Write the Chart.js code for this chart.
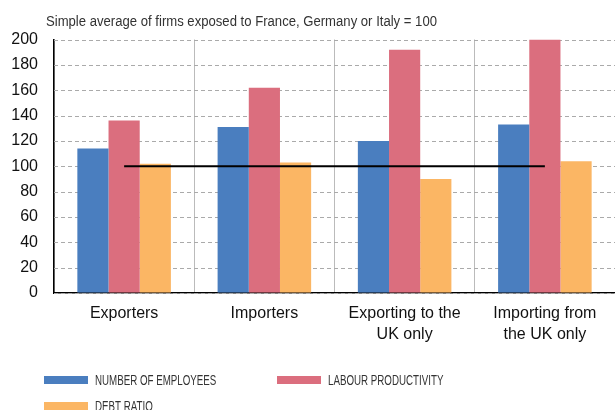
<!DOCTYPE html>
<html>
  <head>
    <script src="https://cdn.jsdelivr.net/npm/chart.js@4"></script>
    <style>
      body { margin: 0; background: #fff; }
    </style>
  </head>
  <body>
    <div style="width: 615px; height: 410px; position: relative">
      <canvas id="canvas"></canvas>
    </div>
    <script>
      // values (index = 100)
      const categories = ['Exporters', 'Importers', ['Exporting to the', 'UK only'], ['Importing from', 'the UK only']];
      const employees = [114, 131, 120, 133];
      const productivity = [136, 162, 192, 200];
      const debtRatio = [102, 103, 90, 104];
      const baseline = [100, 100, 100, 100];
      const seriesNames = ['Number of employees', 'Labour productivity', 'Debt ratio'];
      const titleText = 'Simple average of firms exposed to France, Germany or Italy = 100';

      const FONT = '"Liberation Sans", Arial, sans-serif';

      // dashed horizontal grid, drawn from the y scale's own ticks
      const dashedGrid = {
        id: 'dashedGrid',
        beforeDatasetsDraw(chart) {
          const { ctx, chartArea, scales } = chart;
          ctx.save();
          ctx.strokeStyle = '#aaa';
          ctx.lineWidth = 1;
          ctx.setLineDash([4, 3]);
          scales.y.ticks.forEach((t) => {
            const y = Math.round(scales.y.getPixelForValue(t.value)) + 0.5;
            ctx.beginPath();
            ctx.moveTo(chartArea.left, y);
            ctx.lineTo(chartArea.right, y);
            ctx.stroke();
          });
          ctx.restore();
        },
      };

      // title + legend drawn by hand to get the two-column layout
      const extras = {
        id: 'extras',
        afterDraw(chart) {
          const ctx = chart.ctx;
          ctx.save();
          ctx.fillStyle = '#333';
          ctx.font = '14px ' + FONT;
          ctx.textBaseline = 'alphabetic';
          const tw = ctx.measureText(titleText).width;
          ctx.save();
          ctx.translate(46, 26);
          ctx.scale(391 / tw, 1);
          ctx.fillText(titleText, 0, 0);
          ctx.restore();

          ctx.font = '15px ' + FONT;
          ctx.textBaseline = 'middle';
          chart.data.datasets.filter((d) => d.type !== 'line').forEach((ds, i) => {
            const x = 44 + (i % 2) * 233;
            const y = 380 + Math.floor(i / 2) * 26;
            ctx.fillStyle = ds.backgroundColor;
            ctx.fillRect(x, y - 4, 44, 8);
            ctx.fillStyle = '#333';
            ctx.save();
            ctx.translate(x + 51, y + 1);
            ctx.scale(0.65, 1);
            ctx.fillText(ds.label.toUpperCase(), 0, 0);
            ctx.restore();
          });
          ctx.restore();
        },
      };

      new Chart(document.getElementById('canvas'), {
        type: 'bar',
        data: {
          labels: categories,
          datasets: [
            { type: 'line', label: 'baseline', data: baseline, borderColor: '#000', borderWidth: 2, pointRadius: 0, order: 0 },
            { label: seriesNames[0], data: employees, backgroundColor: '#4a7ebf', order: 1 },
            { label: seriesNames[1], data: productivity, backgroundColor: '#db6e7e', order: 1 },
            { label: seriesNames[2], data: debtRatio, backgroundColor: '#fbb664', order: 1 },
          ],
        },
        options: {
          responsive: true,
          maintainAspectRatio: false,
          animation: false,
          layout: { padding: { top: 39.5, right: 0, bottom: 0, left: 0 } },
          datasets: {
            bar: { categoryPercentage: 0.667, barPercentage: 1 },
          },
          scales: {
            x: {
              offset: true,
              grid: { offset: true, color: '#bbb', lineWidth: 1, drawTicks: false },
              border: { color: '#000', width: 1.5 },
              ticks: { color: '#111', font: { family: FONT, size: 16, lineHeight: 1.3 }, padding: 10, maxRotation: 0 },
              afterFit: (s) => { s.height = 117; },
            },
            y: {
              min: 0,
              max: 200,
              ticks: { stepSize: 20, color: '#111', font: { family: FONT, size: 16 }, padding: 16 },
              grid: { drawOnChartArea: false, drawTicks: false },
              border: { color: '#000', width: 1.5 },
              afterFit: (s) => { s.width = 54; },
            },
          },
          plugins: {
            legend: { display: false },
            tooltip: { enabled: false },
          },
        },
        plugins: [dashedGrid, extras],
      });
    </script>
  </body>
</html>
